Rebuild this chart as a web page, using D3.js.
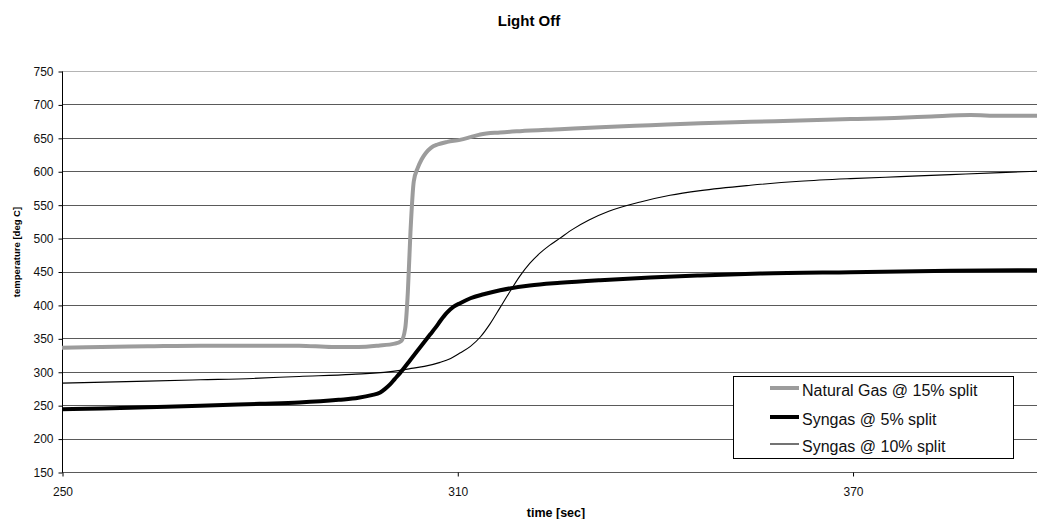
<!DOCTYPE html>
<html>
<head>
<meta charset="utf-8">
<script src="https://cdn.jsdelivr.net/npm/d3@7"></script>
<style>
  html, body { margin: 0; padding: 0; background: #fff; }
  svg { display: block; font-family: "Liberation Sans", Arial, sans-serif; }
</style>
</head>
<body>
<svg id="chart" width="1037" height="519"></svg>
<script>
// Time samples [sec] and temperatures [deg C] for each run
const naturalGasTime = [250, 256, 263, 271, 279, 286, 291, 295, 298, 300.5, 301.5, 302.1, 302.5, 302.9, 303.4, 304.0, 304.6, 305.2, 306.0, 307.0, 308.5, 310.4, 312, 313.5, 316.5, 319.5, 325.6, 331.7, 339.3, 346.9, 354.5, 362, 369.7, 377.3, 382, 387.9, 392.4, 398];
const naturalGasTemp = [336, 337, 338, 339, 339, 339, 337, 337, 339, 342, 346, 365, 420, 510, 585, 605, 618, 627, 635, 640, 644, 647, 651, 655, 658, 660, 663, 666, 669, 672, 674, 676, 678, 680, 682, 684, 683, 683];

const syngas5Time = [250, 256, 263, 271, 280, 286, 292, 295, 297, 298.3, 299, 299.8, 300.5, 301.3, 302.9, 304.4, 305.9, 306.7, 307.5, 308.4, 309.4, 310.5, 312, 314, 316.5, 321, 325.6, 331.7, 339.3, 346.9, 356, 369.7, 384.9, 398];
const syngas5Temp = [244, 245, 247, 249, 252, 254, 258, 261, 265, 269, 274, 281, 289, 298, 318, 337, 356, 366, 377, 388, 397, 403, 410, 416, 422, 429, 433, 437, 441, 444, 447, 449, 451, 452];

const syngas10Time = [250, 263, 271, 279, 286, 294, 301.3, 303, 305, 307.4, 309, 310.4, 312, 313.5, 315, 316.5, 318, 319.5, 321, 322.5, 324, 325.6, 327.5, 330, 333, 337.8, 342.3, 346.9, 354.5, 362, 369.7, 377.3, 384.9, 392.4, 398];
const syngas10Temp = [283, 286, 288, 290, 293, 296, 302, 305, 308, 314, 320, 328, 338, 352, 372, 396, 420, 443, 462, 477, 489, 500, 513, 527, 540, 554, 564, 571, 579, 585, 589, 592, 595, 598, 600];

const seriesNames = ["Natural Gas @ 15% split", "Syngas @ 5% split", "Syngas @ 10% split"];
const xTicks = [250, 310, 370];
const yTicks = [150, 200, 250, 300, 350, 400, 450, 500, 550, 600, 650, 700, 750];

const series = [
  { name: seriesNames[0], t: naturalGasTime, v: naturalGasTemp, color: "#9c9c9c", width: 4 },
  { name: seriesNames[1], t: syngas5Time, v: syngas5Temp, color: "#000", width: 4 },
  { name: seriesNames[2], t: syngas10Time, v: syngas10Temp, color: "#000", width: 1.1 }
];

const svg = d3.select("#chart");
const x = d3.scaleLinear().domain([250, 398]).range([62, 1037]);
const y = d3.scaleLinear().domain([150, 750]).range([472, 71]);

// Horizontal gridlines
svg.append("g")
  .selectAll("line")
  .data(yTicks)
  .join("line")
  .attr("x1", 62).attr("x2", 1037)
  .attr("y1", d => Math.round(y(d)) + 0.5)
  .attr("y2", d => Math.round(y(d)) + 0.5)
  .attr("stroke", d => d === 750 ? "#b4b4b4" : "#5a5a5a")
  .attr("stroke-width", 1.1);

// Y axis
const yAxis = d3.axisLeft(y).tickValues(yTicks).tickSize(4).tickPadding(5);
const gy = svg.append("g").attr("transform", "translate(62.5,0.5)").call(yAxis);
gy.select(".domain").attr("stroke", "#000").attr("d", `M0,${y(750)}V${y(150)}`);
gy.selectAll(".tick line").attr("stroke", "#000");
gy.selectAll(".tick text").attr("font-size", 12).attr("fill", "#111")
  .attr("font-family", "Liberation Sans, Arial, sans-serif");

// X axis
const xAxis = d3.axisBottom(x).tickValues(xTicks).tickSize(4).tickPadding(11);
const gx = svg.append("g").attr("transform", `translate(0.5,${Math.round(y(150)) + 0.5})`).call(xAxis);
gx.select(".domain").remove();
gx.selectAll(".tick line").attr("stroke", "#000");
gx.selectAll(".tick text").attr("font-size", 12).attr("fill", "#111")
  .attr("font-family", "Liberation Sans, Arial, sans-serif");

// Data lines
const line = d3.line()
  .x(d => x(d[0]))
  .y(d => y(d[1]))
  .curve(d3.curveMonotoneX);

const plot = svg.append("g");
series.forEach(s => {
  plot.append("path")
    .datum(s.t.map((t, i) => [t, s.v[i]]))
    .attr("fill", "none")
    .attr("stroke", s.color)
    .attr("stroke-width", s.width)
    .attr("stroke-linejoin", "round")
    .attr("d", line);
});

// Titles
svg.append("text")
  .attr("x", 529).attr("y", 26)
  .attr("text-anchor", "middle")
  .attr("font-weight", "bold")
  .attr("font-size", 15)
  .text("Light Off");

svg.append("text")
  .attr("x", 556).attr("y", 517)
  .attr("text-anchor", "middle")
  .attr("font-weight", "bold")
  .attr("font-size", 12.5)
  .text("time [sec]");

svg.append("text")
  .attr("transform", "translate(20,252) rotate(-90)")
  .attr("text-anchor", "middle")
  .attr("font-weight", "bold")
  .attr("font-size", 9.5)
  .text("temperature [deg C]");

// Legend
const legend = svg.append("g");
legend.append("rect")
  .attr("x", 733.5).attr("y", 376.5)
  .attr("width", 280).attr("height", 82)
  .attr("fill", "#fff").attr("stroke", "#000").attr("stroke-width", 1);

const legendRows = [388, 417, 444];
series.forEach((s, i) => {
  legend.append("line")
    .attr("x1", 770).attr("x2", 799)
    .attr("y1", legendRows[i]).attr("y2", legendRows[i])
    .attr("stroke", s.color)
    .attr("stroke-width", s.width);
  legend.append("text")
    .attr("x", 802).attr("y", legendRows[i] + 8)
    .attr("font-size", 16)
    .attr("fill", "#111")
    .text(s.name);
});
</script>
</body>
</html>
